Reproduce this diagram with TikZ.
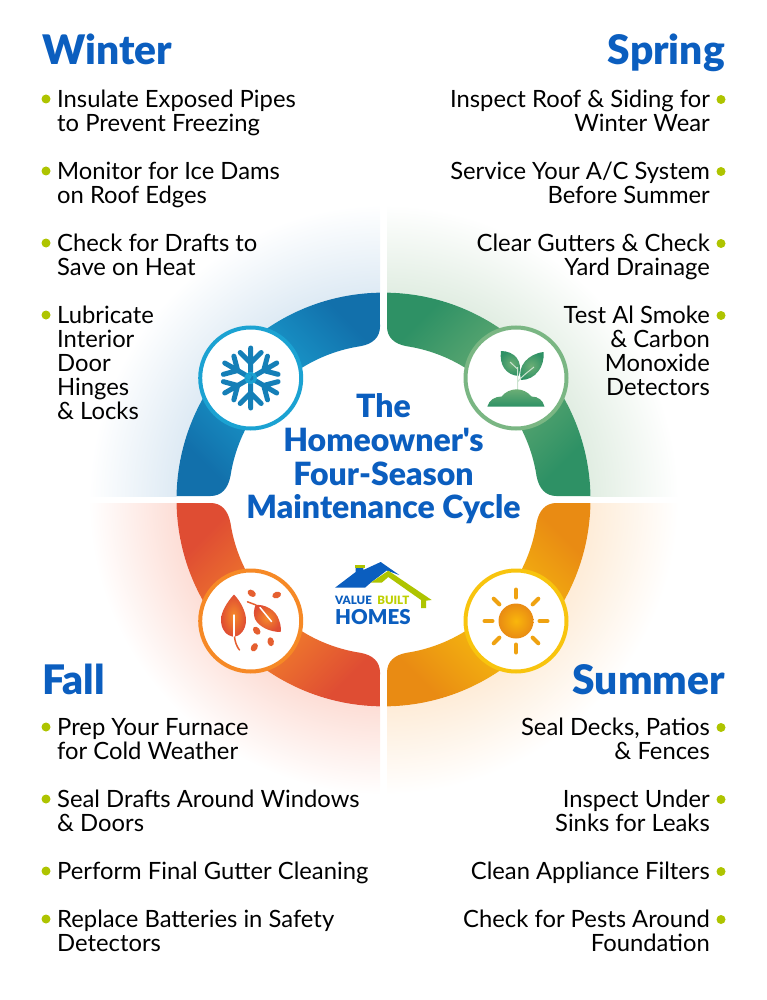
\documentclass[tikz,border=0pt]{standalone}
\usepackage{fontspec}
\setmainfont{Lato}
\newfontfamily\heavyfont{Lato Black}
\usetikzlibrary{positioning}

\definecolor{vbblue}{HTML}{0B5EBF}
\definecolor{vblime}{HTML}{AEC400}
\definecolor{winterend}{HTML}{1270AB}
\definecolor{wintermid}{HTML}{1BA2D2}
\definecolor{winterglow}{HTML}{90B9DA}
\definecolor{springend}{HTML}{2E9165}
\definecolor{springmid}{HTML}{6BAE75}
\definecolor{springglow}{HTML}{9BC49F}
\definecolor{fallend}{HTML}{DF4D33}
\definecolor{fallmid}{HTML}{F58A2A}
\definecolor{fallglow}{HTML}{F89076}
\definecolor{summerend}{HTML}{E98B13}
\definecolor{summermid}{HTML}{F8C40E}
\definecolor{summerglow}{HTML}{FBC07D}

\begin{document}
\begin{tikzpicture}[
    x=1pt, y=1pt, yscale=-1,
    season/.style={font=\fontsize{40.7}{41}\heavyfont, text=vbblue, inner sep=0pt},
    itemL/.style={font=\fontsize{23.8}{24}\selectfont, align=left, anchor=north west, inner sep=0pt, execute at begin node=\strut},
    itemR/.style={font=\fontsize{23.8}{24}\selectfont, align=right, anchor=north east, inner sep=0pt, execute at begin node=\strut},
    dot/.style={circle, fill=vblime, minimum size=9pt, inner sep=0pt},
    badge/.style={circle, fill=white, line width=4pt, minimum size=101pt, inner sep=0pt}
  ]

  \useasboundingbox (0,0) rectangle (767,1000);

  % glow behind each quarter
  \foreach \sx/\sy/\glow in {-1/-1/winterglow, 1/-1/springglow, -1/1/fallglow, 1/1/summerglow} {
      \begin{scope}[shift={(383.5,499.5)}, xscale=\sx, yscale=\sy]
        \clip (3.5,3.5) rectangle (600,600);
        \shade[inner color=\glow, outer color=white] (0,0) circle[radius=295];
      \end{scope}
    }

  \fill[white] (383.5,499.5) circle[radius=207];

  % ring
  \foreach \sx/\sy/\ang/\endc/\midc in {-1/-1/-45/winterend/wintermid, 1/-1/45/springend/springmid, -1/1/45/fallend/fallmid, 1/1/-45/summerend/summermid} {
      \begin{scope}[shift={(383.5,499.5)}, xscale=\sx, yscale=\sy]
        \shade[top color=\endc, bottom color=\endc, middle color=\midc, shading angle=\ang]
        (206.97,3.5) arc[start angle=1, end angle=89, radius=207]
        -- (3.5,173) .. controls (3.5,162) and (11,155.5) .. (23,153.3)
        arc[start angle=81.4, end angle=8.6, radius=155]
        .. controls (155.5,11) and (162,3.5) .. (173,3.5) -- cycle;
      \end{scope}
    }

  \node[badge, draw=wintermid] (winter) at (250.7,378) {};
  \node[badge, draw=springmid!90!white] (spring) at (516,378) {};
  \node[badge, draw=fallmid!90!orange] (fall) at (250.7,621) {};
  \node[badge, draw=summermid] (summer) at (516,621) {};

  % snowflake
  \foreach \a in {0,60,...,300} {
      \begin{scope}[shift={(winter.center)}, rotate=\a]
        \draw[winterend!70!wintermid, line width=5pt, line cap=round, line join=round]
        (0,0) -- (0,-30) (-10.5,-25.5) -- (0,-15) -- (10.5,-25.5);
        \draw[wintermid, line width=5pt] (0,0) -- (0,-6);
      \end{scope}
    }

  % plant
  \shade[inner color=springmid, outer color=springend]
  (501,351) .. controls (514,351) and (524,361) .. (518.5,376)
  .. controls (506,375) and (499,365) .. (501,351) -- cycle;
  \shade[inner color=springmid, outer color=springend]
  (543.5,352) .. controls (545,367) and (535,380) .. (521,380)
  .. controls (517,366) and (528,354) .. (543.5,352) -- cycle;
  \draw[springmid!35!white, line width=1pt] (517.5,390) -- (517.5,367) (510,362) -- (517.5,369) (517.5,382) .. controls (522,376) and (528,372) .. (534,367);
  \shade[top color=springmid, bottom color=springend]
  (487.3,406.7) .. controls (489,400) and (495,396.5) .. (501.5,396.5)
  .. controls (505,392) and (511,389.3) .. (516.7,389.3)
  .. controls (522,389.3) and (528,392) .. (531.5,396.5)
  .. controls (538,396.5) and (543,400) .. (544.5,406.7) -- cycle;

  % leaves
  \shade[inner color=fallmid, outer color=fallend]
  (234,594.5) .. controls (241,602) and (246,612) .. (246,620)
  .. controls (246,630) and (240,636) .. (234,637)
  .. controls (227,636) and (221,630) .. (221,620)
  .. controls (221,612) and (227,602) .. (234,594.5) -- cycle;
  \draw[white, line width=1.5pt, line cap=round] (234,615) -- (234,637);
  \draw[fallend!70!fallmid, line width=1.5pt, line cap=round] (234.5,637) .. controls (235,642) and (237,647) .. (239.5,650);
  \shade[inner color=fallmid, outer color=fallend]
  (255.5,605) .. controls (265,604) and (276,610) .. (279,620)
  .. controls (281,625) and (281,629) .. (280.7,632)
  .. controls (270,632) and (259,627) .. (255,619)
  .. controls (253,614) and (254,609) .. (255.5,605) -- cycle;
  \draw[fallend!70!fallmid, line width=1.5pt, line cap=round] (247.5,601.8) -- (256,605);
  \draw[white, line width=1.5pt, line cap=round] (260,607.5) -- (271.5,621.5);
  \foreach \px/\py/\rt in {251.7/593.3/35, 276.7/595/-20, 256.7/630.7/50, 270.7/641.7/80, 254.3/647.3/-60} {
      \fill[fallend!70!fallmid, rotate around={\rt:(\px,\py)}] (\px,\py) ellipse[x radius=4.5, y radius=3.2];
    }

  % sun
  \shade[inner color=summermid!80!orange, outer color=summerend] (summer.center) circle[radius=17.5];
  \foreach \a in {0,45,...,315} {
      \begin{scope}[shift={(summer.center)}, rotate=\a]
        \draw[summerend!60!summermid, line width=4pt, line cap=round] (23.5,0) -- (31.5,0);
      \end{scope}
    }

  % title
  \node[font=\fontsize{32}{33.7}\heavyfont, text=vbblue, align=center, inner sep=0pt] (title) at (383.5,459) {The\\Homeowner's\\Four-Season\\Maintenance Cycle};

  % logo
  \fill[vbblue] (335,587.7) -- (355.7,572) -- (355.7,566) -- (363.3,566) -- (363.3,570) -- (380.7,562) -- (399.3,575) -- (386.7,570.5) -- (370.7,582.7) -- (365,587.7) -- cycle;
  \fill[vblime] (354.5,565) rectangle (365,567.5);
  \fill[vblime] (388.3,570.7) -- (431.7,600) -- (426,600.7) -- (426,608) -- (421,608) -- (421,600) -- (388.3,577) -- (381.7,582.7) -- (370.7,582.7) -- cycle;
  \node[font=\fontsize{11.5}{12}\heavyfont, text=vbblue, anchor=base west, inner sep=0pt] (value) at (335,604.5) {VALUE};
  \node[font=\fontsize{11.5}{12}\heavyfont, text=vblime!80!yellow, anchor=base west, inner sep=0pt] (built) at ([xshift=5pt]value.base east) {BUILT};
  \node[font=\fontsize{20.5}{21}\heavyfont, text=vbblue, anchor=base west, inner sep=0pt] (homes) at (335,624.5) {HOMES};

  % headings
  \node[season, anchor=base west] (winterhead) at (42,65) {Winter};
  \node[season, anchor=base east] (springhead) at (725,65) {Spring};
  \node[season, anchor=base west] (fallhead) at (42,694) {Fall};
  \node[season, anchor=base east] (summerhead) at (725,694) {Summer};

  % winter list
  \node[itemL] (w1) at (57,90) {Insulate Exposed Pipes\\to Prevent Freezing};
  \node[itemL] (w2) at (57,162) {Monitor for Ice Dams\\on Roof Edges};
  \node[itemL] (w3) at (57,234) {Check for Drafts to\\Save on Heat};
  \node[itemL] (w4) at (57,306) {Lubricate\\Interior\\Door\\Hinges\\\& Locks};

  % spring list
  \node[itemR] (s1) at (710,90) {Inspect Roof \& Siding for\\Winter Wear};
  \node[itemR] (s2) at (710,162) {Service Your A/C System\\Before Summer};
  \node[itemR] (s3) at (710,234) {Clear Gutters \& Check\\Yard Drainage};
  \node[itemR] (s4) at (710,306) {Test Al Smoke\\\& Carbon\\Monoxide\\Detectors};

  % fall list
  \node[itemL] (f1) at (57,718) {Prep Your Furnace\\for Cold Weather};
  \node[itemL] (f2) at (57,790) {Seal Drafts Around Windows\\\& Doors};
  \node[itemL] (f3) at (57,862) {Perform Final Gutter Cleaning};
  \node[itemL] (f4) at (57,910) {Replace Batteries in Safety\\Detectors};

  % summer list
  \node[itemR] (u1) at (710,718) {Seal Decks, Patios\\\& Fences};
  \node[itemR] (u2) at (710,790) {Inspect Under\\Sinks for Leaks};
  \node[itemR] (u3) at (710,862) {Clean Appliance Filters};
  \node[itemR] (u4) at (710,910) {Check for Pests Around\\Foundation};

  \foreach \n in {w1,w2,w3,w4,f1,f2,f3,f4} {
      \node[dot] (\n-dot) at ([shift={(-11,9)}]\n.north west) {};
    }
  \foreach \n in {s1,s2,s3,s4,u1,u2,u3,u4} {
      \node[dot] (\n-dot) at ([shift={(11,9.5)}]\n.north east) {};
    }

\end{tikzpicture}
\end{document}
